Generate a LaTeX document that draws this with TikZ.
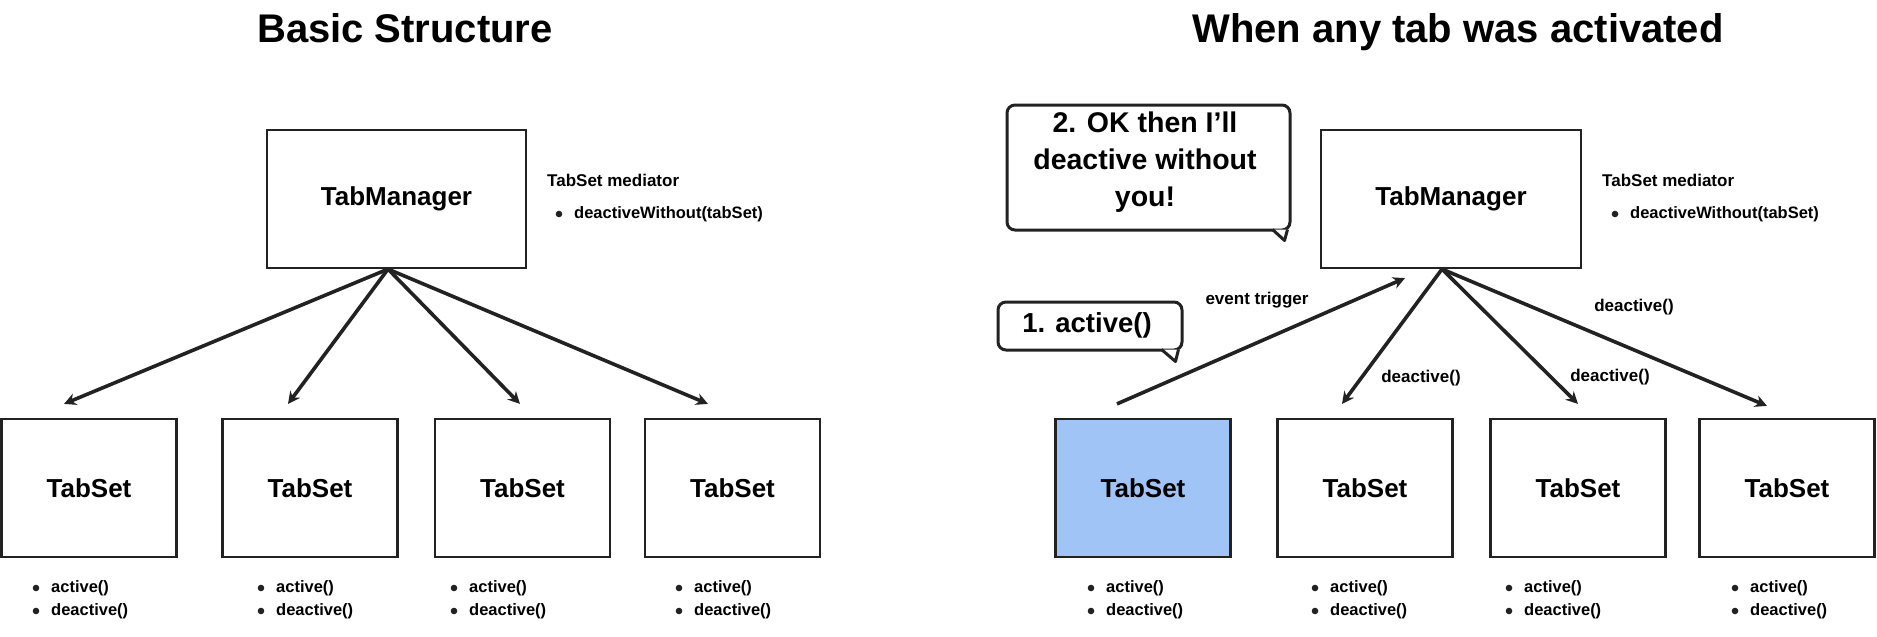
\documentclass[tikz,border=0pt]{standalone}
\usepackage{fontspec}
\setmainfont{Liberation Sans}
\usetikzlibrary{arrows.meta,calc}
\definecolor{ink}{RGB}{34,34,34}
\definecolor{activeblue}{RGB}{160,196,245}
\begin{document}
\begin{tikzpicture}[x=1pt,y=-1pt,
  box/.style={draw=ink, line width=2.2pt, minimum width=175pt, minimum height=138pt, inner sep=0pt, font=\fontsize{26}{30}\selectfont\bfseries},
  mgr/.style={box, minimum width=259pt},
  conn/.style={draw=ink, line width=3.6pt, -{Stealth[length=12pt,width=12pt]}},
  lbl/.style={font=\fontsize{17}{20}\selectfont\bfseries, inner sep=0pt},
  item/.style={font=\fontsize{16.5}{19}\selectfont\bfseries, inner sep=0pt, anchor=west},
  ttl/.style={font=\fontsize{40}{46}\selectfont\bfseries, inner sep=0pt, anchor=base},
  bubble/.style={draw=ink, line width=3pt, rounded corners=8pt, fill=white, inner sep=0pt},
  bubtext/.style={inner sep=0pt, align=center, font=\fontsize{28.5}{37}\selectfont\bfseries},
  tail/.style={draw=ink, fill=white, line width=3pt, line join=round},
]
\useasboundingbox (0,0) rectangle (1877,637);

% titles
\node[ttl] (t1) at (405,42) {Basic Structure};
\node[ttl] (t2) at (1458,42) {When any tab was activated};

% ---------- left: basic structure ----------
\node[mgr] (tm1) at (396.5,199) {TabManager};
\node[box] (l1) at (89,488) {TabSet};
\node[box] (l2) at (310,488) {TabSet};
\node[box] (l3) at (522.5,488) {TabSet};
\node[box] (l4) at (732.5,488) {TabSet};

\node[lbl, anchor=west] (m1) at (547,180) {TabSet mediator};
\node[item] (m1i) at (574,214) {deactiveWithout(tabSet)};
\fill[ink] ($(m1i.west)+(-15,0)$) circle (3.3pt);

\draw[conn] ($(tm1.south)+(-8.5,0)$) -- ($(l1.north)+(-25,-14)$);
\draw[conn] ($(tm1.south)+(-8.5,0)$) -- ($(l2.north)+(-22,-14)$);
\draw[conn] ($(tm1.south)+(-8.5,0)$) -- ($(l3.north)+(-2.5,-14)$);
\draw[conn] ($(tm1.south)+(-8.5,0)$) -- ($(l4.north)+(-24.5,-14)$);

% ---------- right: when any tab was activated ----------
\node[mgr, minimum width=260pt] (tm2) at (1451,199) {TabManager};
\node[box, fill=activeblue] (r1) at (1143,488) {TabSet};
\node[box] (r2) at (1365,488) {TabSet};
\node[box] (r3) at (1578,488) {TabSet};
\node[box] (r4) at (1787,488) {TabSet};

\node[lbl, anchor=west] (m2) at (1602,180) {TabSet mediator};
\node[item] (m2i) at (1630,214) {deactiveWithout(tabSet)};
\fill[ink] ($(m2i.west)+(-15,0)$) circle (3.3pt);

\draw[conn] ($(r1.north)+(-26,-14)$) -- ($(tm2.south)+(-46,9)$);
\draw[conn] ($(tm2.south)+(-9,0)$) -- ($(r2.north)+(-23,-14)$);
\draw[conn] ($(tm2.south)+(-9,0)$) -- ($(r3.north)+(0,-14)$);
\draw[conn] ($(tm2.south)+(-9,0)$) -- ($(r4.north)+(-20,-12)$);

\node[lbl] (ev) at (1257,300) {event trigger};
\node[lbl] (d1) at (1421,378) {deactive()};
\node[lbl] (d2) at (1610,377) {deactive()};
\node[lbl] (d3) at (1634,307) {deactive()};

% speech bubbles
\node[bubble, minimum width=184pt, minimum height=48pt] (b1) at (1090,326) {};
\path[tail] ($(b1.south east)+(-22,-2)$) -- ($(b1.south east)+(-8,10)$) -- ($(b1.south east)+(-5,-2)$);
\node[bubtext, font=\fontsize{27.5}{32}\selectfont\bfseries] (b1t) at (1087,325) {1. active()};

\node[bubble, minimum width=283pt, minimum height=125pt] (b2) at (1148.5,167.5) {};
\path[tail] ($(b2.south east)+(-19,-2)$) -- ($(b2.south east)+(-7,9)$) -- ($(b2.south east)+(-4,-2)$);
\node[bubtext] (b2t) at (1145,162) {2. OK then I'll\\deactive without\\you!};

% method lists under the TabSets
\foreach \n/\tx in {l1/51, l2/276, l3/469, l4/694, r1/1106, r2/1330, r3/1524, r4/1750} {
  \node[item] (\n-a) at (\tx,588) {active()};
  \node[item] (\n-d) at (\tx,611) {deactive()};
  \fill[ink] ($(\n-a.west)+(-15,0)$) circle (3.3pt);
  \fill[ink] ($(\n-d.west)+(-15,0)$) circle (3.3pt);
}
\end{tikzpicture}
\end{document}
